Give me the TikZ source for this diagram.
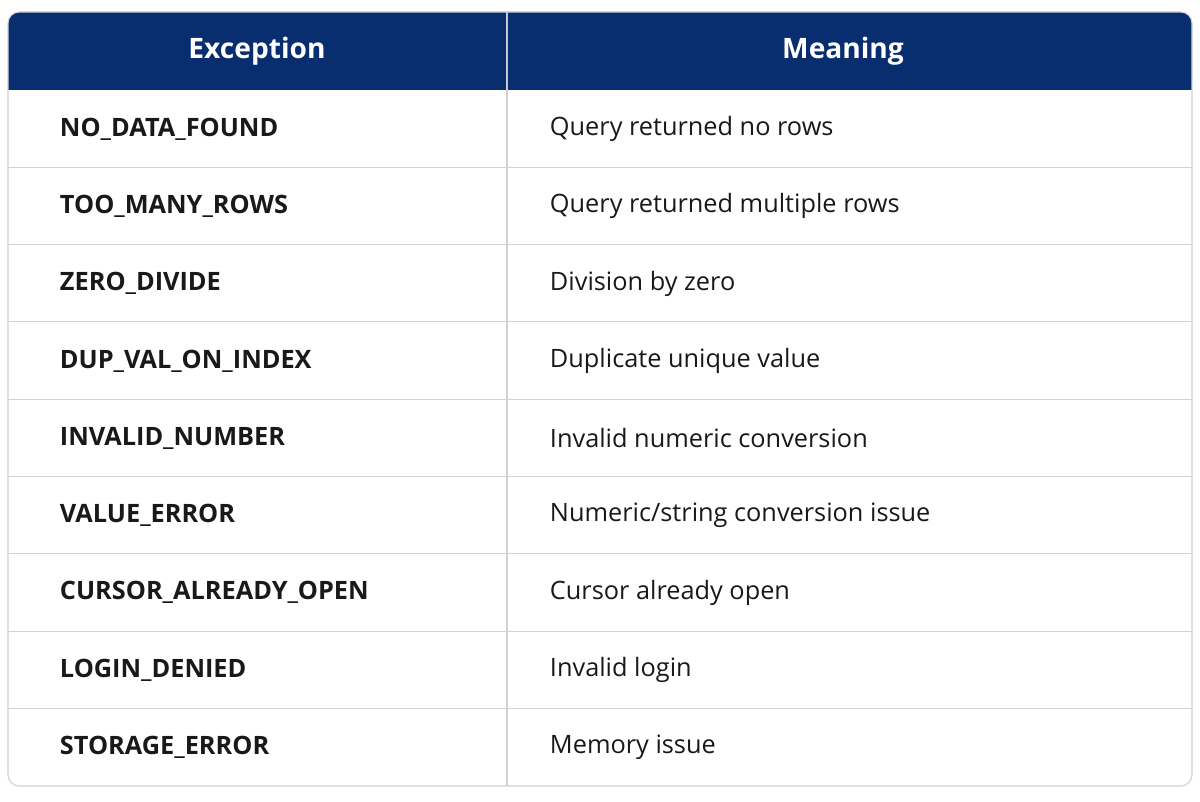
\documentclass[tikz,border=0pt]{standalone}
\usepackage{fontspec}
\setmainfont{Open Sans}
\definecolor{hdr}{RGB}{8,46,112}
\definecolor{grid}{RGB}{208,210,214}
\begin{document}
\begin{tikzpicture}[x=0.025cm,y=-0.025cm,
  cell/.style={anchor=west,font=\fontsize{18}{20}\selectfont,text=black!90},
  key/.style={cell,font=\fontsize{18}{20}\selectfont\bfseries},
  head/.style={text=white,font=\fontsize{20}{22}\selectfont\bfseries}]
\useasboundingbox (0,0) rectangle (1200,801);
\fill[white] (0,0) rectangle (1200,801);
\fill[hdr,rounded corners=8] (8,12) rectangle (1192,90);
\fill[hdr] (8,50) rectangle (1192,90);
\draw[grid,line width=0.8pt,rounded corners=8] (8,12) rectangle (1192,786);
\draw[grid,line width=0.8pt] (507,12) -- (507,786);
\draw[white!70!hdr,line width=0.6pt] (507,12) -- (507,90);
\foreach \i in {1,...,8} \draw[grid,line width=0.8pt] (8,{90+77.3*\i}) -- (1192,{90+77.3*\i});
\node[head] (h1) at (257,51) {Exception};
\node[head] (h2) at (843,51) {Meaning};
\foreach \k/\m [count=\i from 0] in {NO\_DATA\_FOUND/Query returned no rows,TOO\_MANY\_ROWS/Query returned multiple rows,ZERO\_DIVIDE/Division by zero,DUP\_VAL\_ON\_INDEX/Duplicate unique value,INVALID\_NUMBER/Invalid numeric conversion,VALUE\_ERROR/Numeric\slash string conversion issue,CURSOR\_ALREADY\_OPEN/Cursor already open,LOGIN\_DENIED/Invalid login,STORAGE\_ERROR/Memory issue}{
  \node[key] (k\i) at (55,{129+77.3*\i}) {\k};
  \node[cell] (m\i) at (545,{129+77.3*\i}) {\m};
}
\end{tikzpicture}
\end{document}
